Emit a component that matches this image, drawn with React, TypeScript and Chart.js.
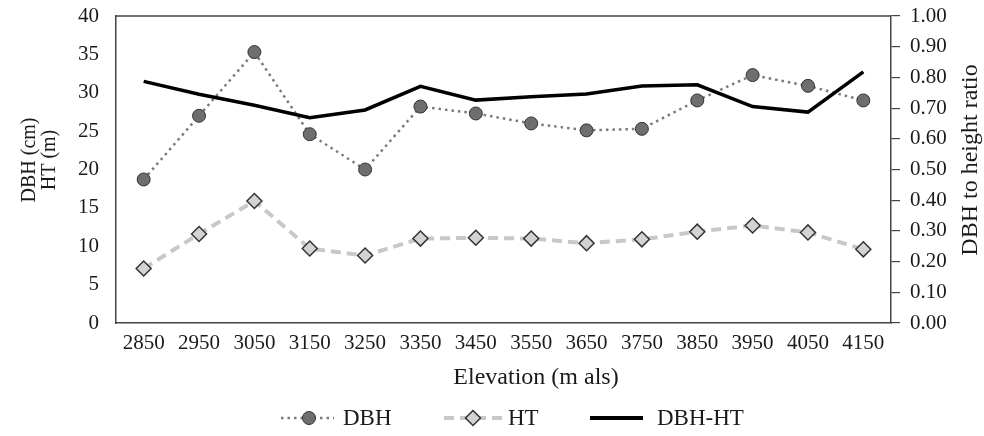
import React, { useEffect, useRef } from "react";
import { Chart, registerables } from "chart.js";

Chart.register(...registerables);

const elevations = ["2850", "2950", "3050", "3150", "3250", "3350", "3450", "3550", "3650", "3750", "3850", "3950", "4050", "4150"];
const dbh = [18.7, 27.0, 35.3, 24.6, 20.0, 28.2, 27.3, 26.0, 25.1, 25.3, 29.0, 32.3, 30.9, 29.0];
const ht = [7.1, 11.6, 15.9, 9.7, 8.8, 11.0, 11.1, 11.0, 10.4, 10.9, 11.9, 12.7, 11.8, 9.6];
const dbhHtRatio = [0.787, 0.745, 0.709, 0.669, 0.694, 0.771, 0.726, 0.737, 0.746, 0.772, 0.776, 0.705, 0.687, 0.818];

const leftAxis = { min: 0, max: 40, step: 5 };
const rightAxis = { min: 0, max: 1, step: 0.1 };

const leftTitleLines = ["DBH (cm)", "HT (m)"];
const rightTitle = "DBH to height ratio";
const xTitle = "Elevation (m als)";
const legendLabels = ["DBH", "HT", "DBH-HT"];

const SERIF = "'Liberation Serif', 'Times New Roman', serif";
const TEXT = "#1a1a1a";
const AXIS = "#444";

const decorPlugin = {
  id: "decor",
  afterDraw(chart: any) {
    const ctx = chart.ctx as CanvasRenderingContext2D;
    const ca = chart.chartArea;
    ctx.save();
    // top border
    ctx.strokeStyle = AXIS;
    ctx.lineWidth = 1.5;
    ctx.beginPath();
    ctx.moveTo(ca.left, ca.top);
    ctx.lineTo(ca.right, ca.top);
    ctx.stroke();

    ctx.fillStyle = TEXT;
    ctx.textAlign = "center";
    ctx.textBaseline = "middle";
    const midY = 160;

    // left title (two lines, rotated)
    ctx.font = `20px ${SERIF}`;
    [30, 50].forEach((x, i) => {
      ctx.save();
      ctx.translate(x, midY);
      ctx.rotate(-Math.PI / 2);
      ctx.fillText(leftTitleLines[i], 0, 0);
      ctx.restore();
    });

    // right title
    ctx.font = `24px ${SERIF}`;
    ctx.save();
    ctx.translate(971, midY);
    ctx.rotate(-Math.PI / 2);
    ctx.fillText(rightTitle, 0, 0);
    ctx.restore();

    // x title
    ctx.font = `24px ${SERIF}`;
    ctx.fillText(xTitle, 536, 378);

    // legend
    const ly = 418;
    ctx.font = `23px ${SERIF}`;
    ctx.textAlign = "left";
    // DBH
    ctx.strokeStyle = "#7a7a7a";
    ctx.lineWidth = 2.5;
    ctx.setLineDash([2.5, 4]);
    ctx.beginPath();
    ctx.moveTo(281, ly);
    ctx.lineTo(334, ly);
    ctx.stroke();
    ctx.setLineDash([]);
    ctx.fillStyle = "#6e6e6e";
    ctx.strokeStyle = "#333";
    ctx.lineWidth = 1;
    ctx.beginPath();
    ctx.arc(309, ly, 6.5, 0, Math.PI * 2);
    ctx.fill();
    ctx.stroke();
    ctx.fillStyle = TEXT;
    ctx.fillText(legendLabels[0], 343, ly + 1);
    // HT
    ctx.strokeStyle = "#c8c8c8";
    ctx.lineWidth = 4;
    ctx.setLineDash([10, 6]);
    ctx.beginPath();
    ctx.moveTo(444, ly);
    ctx.lineTo(502, ly);
    ctx.stroke();
    ctx.setLineDash([]);
    ctx.fillStyle = "#d3d3d3";
    ctx.strokeStyle = "#333";
    ctx.lineWidth = 1.5;
    ctx.beginPath();
    ctx.moveTo(473, ly - 7.5);
    ctx.lineTo(480.5, ly);
    ctx.lineTo(473, ly + 7.5);
    ctx.lineTo(465.5, ly);
    ctx.closePath();
    ctx.fill();
    ctx.stroke();
    ctx.fillStyle = TEXT;
    ctx.fillText(legendLabels[1], 508, ly + 1);
    // DBH-HT
    ctx.strokeStyle = "#000";
    ctx.lineWidth = 4;
    ctx.beginPath();
    ctx.moveTo(590, ly);
    ctx.lineTo(643, ly);
    ctx.stroke();
    ctx.fillText(legendLabels[2], 657, ly + 1);

    ctx.restore();
  },
};

export default function App() {
  const ref = useRef<HTMLCanvasElement>(null);

  useEffect(() => {
    if (!ref.current) return;
    const chart = new Chart(ref.current, {
      type: "line",
      data: {
        labels: elevations,
        datasets: [
          {
            label: legendLabels[2],
            data: dbhHtRatio,
            yAxisID: "y1",
            borderColor: "#000",
            borderWidth: 3.5,
            pointRadius: 0,
            tension: 0,
            fill: false,
          },
          {
            label: legendLabels[0],
            data: dbh,
            yAxisID: "y",
            borderColor: "#7a7a7a",
            borderWidth: 2.5,
            borderDash: [2.5, 4],
            pointStyle: "circle",
            pointRadius: 6.5,
            pointBackgroundColor: "#6e6e6e",
            pointBorderColor: "#333",
            pointBorderWidth: 1,
            tension: 0,
            fill: false,
          },
          {
            label: legendLabels[1],
            data: ht,
            yAxisID: "y",
            borderColor: "#c8c8c8",
            borderWidth: 4,
            borderDash: [10, 6],
            pointStyle: "rectRot",
            pointRadius: 7.5,
            pointBackgroundColor: "#d3d3d3",
            pointBorderColor: "#333",
            pointBorderWidth: 1.5,
            tension: 0,
            fill: false,
          },
        ],
      },
      options: {
        responsive: false,
        animation: false,
        layout: { padding: { top: 16, bottom: 40, left: 0, right: 0 } },
        plugins: {
          legend: { display: false },
          tooltip: { enabled: false },
          title: { display: false },
        },
        scales: {
          x: {
            type: "category",
            offset: true,
            grid: { display: false },
            border: { display: true, color: AXIS, width: 1.5 },
            ticks: {
              color: TEXT,
              font: { family: SERIF, size: 21 },
              padding: 0,
              maxRotation: 0,
              autoSkip: false,
            },
            afterFit: (s: any) => {
              s.height = 73;
              s.paddingLeft = 0;
              s.paddingRight = 0;
            },
          },
          y: {
            position: "left",
            min: leftAxis.min,
            max: leftAxis.max,
            grid: { display: false },
            border: { display: true, color: AXIS, width: 1.5 },
            ticks: {
              stepSize: leftAxis.step,
              color: TEXT,
              font: { family: SERIF, size: 21 },
              padding: 9,
            },
            afterFit: (s: any) => {
              s.width = 116;
              s.paddingTop = 0;
              s.paddingBottom = 0;
            },
          },
          y1: {
            position: "right",
            min: rightAxis.min,
            max: rightAxis.max,
            grid: {
              display: true,
              drawOnChartArea: false,
              drawTicks: true,
              tickLength: 9,
              color: AXIS,
              lineWidth: 1.2,
            },
            border: { display: true, color: AXIS, width: 1.5 },
            ticks: {
              stepSize: rightAxis.step,
              color: TEXT,
              font: { family: SERIF, size: 21 },
              padding: 10,
              callback: (v: any) => Number(v).toFixed(2),
            },
            afterFit: (s: any) => {
              s.width = 93;
              s.paddingTop = 0;
              s.paddingBottom = 0;
            },
          },
        },
      },
      plugins: [decorPlugin],
    });
    return () => chart.destroy();
  }, []);

  return (
    <div style={{ position: "absolute", left: 0, top: 0, width: 984, height: 436, background: "#fff" }}>
      <canvas ref={ref} width={984} height={436} style={{ display: "block", width: 984, height: 436 }} />
    </div>
  );
}
